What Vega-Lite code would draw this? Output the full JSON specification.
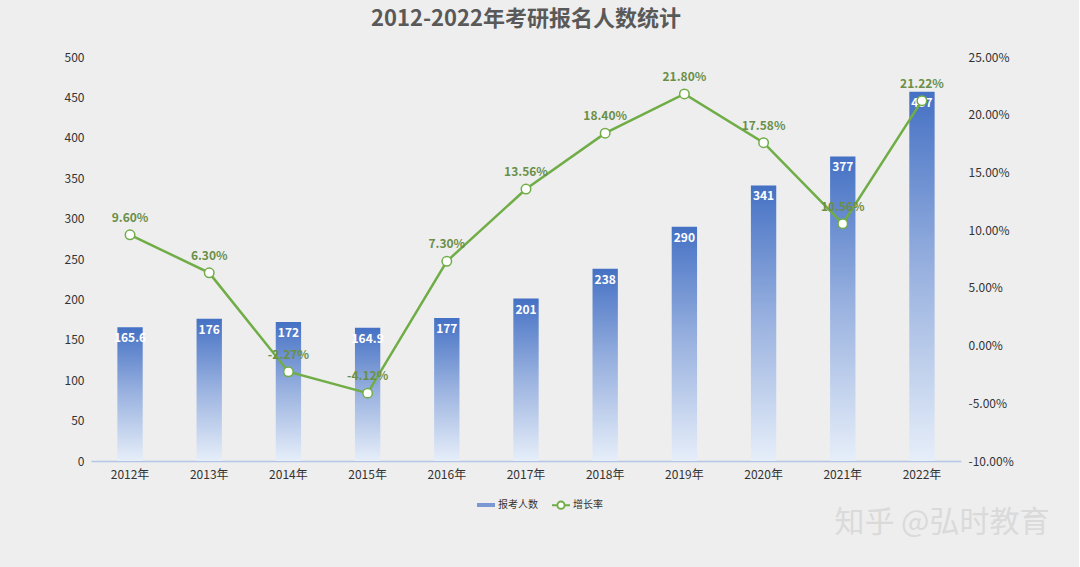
{
  "$schema": "https://vega.github.io/schema/vega-lite/v6.json",
  "width": 870,
  "height": 404,
  "padding": {"left": 64, "top": 8, "right": 30, "bottom": 30},
  "background": "#eeeeee",
  "title": {
    "text": "2012-2022年考研报名人数统计",
    "font": "Noto Sans CJK SC",
    "fontSize": 22,
    "fontWeight": "bold",
    "color": "#595959",
    "anchor": "middle",
    "offset": 20
  },
  "config": {
    "view": {"stroke": null},
    "font": "Noto Sans CJK SC",
    "locale": {
      "number": {"decimal": ".", "thousands": ",", "grouping": [3], "currency": ["", ""], "minus": "-"}
    },
    "axis": {"labelFont": "Noto Sans CJK SC", "titleFont": "Noto Sans CJK SC"},
    "legend": {"labelFont": "Noto Sans CJK SC"}
  },
  "data": {
    "values": [
      {"year": "2012年", "count": 165.6, "growth": 0.096},
      {"year": "2013年", "count": 176, "growth": 0.063},
      {"year": "2014年", "count": 172, "growth": -0.0227},
      {"year": "2015年", "count": 164.9, "growth": -0.0412},
      {"year": "2016年", "count": 177, "growth": 0.073},
      {"year": "2017年", "count": 201, "growth": 0.1356},
      {"year": "2018年", "count": 238, "growth": 0.184},
      {"year": "2019年", "count": 290, "growth": 0.218},
      {"year": "2020年", "count": 341, "growth": 0.1758},
      {"year": "2021年", "count": 377, "growth": 0.1056},
      {"year": "2022年", "count": 457, "growth": 0.2122}
    ]
  },
  "encoding": {
    "x": {
      "field": "year",
      "type": "nominal",
      "sort": null,
      "scale": {"paddingInner": 0.68, "paddingOuter": 0.333},
      "axis": {
        "labelAngle": 0,
        "ticks": false,
        "domainColor": "#b4c6e7",
        "domainWidth": 1.5,
        "labelPadding": 8,
        "labelFontSize": 12,
        "labelColor": "#333333",
        "title": "知乎 @弘时教育",
        "titleFontSize": 30,
        "titleFontWeight": "normal",
        "titleColor": "#dadada",
        "titleAlign": "right",
        "titleBaseline": "middle",
        "titleX": 958,
        "titleY": 61
      }
    }
  },
  "layer": [
    {
      "encoding": {
        "y": {
          "field": "count",
          "type": "quantitative",
          "scale": {"domain": [0, 500], "nice": false},
          "axis": {
            "values": [0, 50, 100, 150, 200, 250, 300, 350, 400, 450, 500],
            "title": null,
            "ticks": false,
            "domain": false,
            "grid": false,
            "labelPadding": 7,
            "labelFontSize": 12,
            "labelColor": "#333333"
          }
        }
      },
      "layer": [
        {
          "mark": {
            "type": "bar",
            "strokeWidth": 0,
            "fill": {
              "gradient": "linear",
              "x1": 0, "y1": 0, "x2": 0, "y2": 1,
              "stops": [
                {"offset": 0, "color": "#4571c4"},
                {"offset": 0.5, "color": "#9bb3e0"},
                {"offset": 1, "color": "#e6eef9"}
              ]
            }
          },
          "encoding": {
            "stroke": {
              "datum": "报考人数",
              "scale": {"domain": ["报考人数", "增长率"], "range": ["#7b98d4", "#70ad47"]},
              "legend": {
                "orient": "none",
                "legendX": 390,
                "legendY": 443,
                "direction": "horizontal",
                "title": null,
                "symbolType": "stroke",
                "symbolSize": 324,
                "symbolStrokeWidth": 4,
                "labelFontSize": 10,
                "labelColor": "#333333",
                "labelOffset": 7,
                "columnPadding": 10,
                "encode": {
                  "symbols": {
                    "update": {
                      "shape": {"signal": "datum.value === '增长率' ? 'M-1,0H-0.4M0.4,0H1M-0.4,0A0.4,0.4,0,1,1,0.4,0A0.4,0.4,0,1,1,-0.4,0' : 'stroke'"},
                      "fill": {"value": "#ffffff"},
                      "strokeWidth": {"signal": "datum.value === '增长率' ? 2 : 4"}
                    }
                  }
                }
              }
            }
          }
        },
        {
          "mark": {
            "type": "text",
            "baseline": "top",
            "dy": 6,
            "color": "#ffffff",
            "fontWeight": "bold",
            "fontSize": 12
          },
          "encoding": {
            "text": {"field": "count", "type": "quantitative"}
          }
        }
      ]
    },
    {
      "encoding": {
        "y": {
          "field": "growth",
          "type": "quantitative",
          "scale": {"domain": [-0.1, 0.25], "nice": false},
          "axis": {
            "orient": "right",
            "values": [-0.1, -0.05, 0, 0.05, 0.1, 0.15, 0.2, 0.25],
            "format": ".2%",
            "title": null,
            "ticks": false,
            "domain": false,
            "grid": false,
            "labelPadding": 7,
            "labelFontSize": 12,
            "labelColor": "#333333"
          }
        }
      },
      "layer": [
        {
          "mark": {
            "type": "line",
            "strokeWidth": 2.5,
            "point": {
              "filled": true,
              "fill": "#ffffff",
              "stroke": "#70ad47",
              "strokeWidth": 1.5,
              "size": 90
            }
          },
          "encoding": {
            "stroke": {
              "datum": "增长率",
              "legend": {
                "orient": "none",
                "legendX": 390,
                "legendY": 443,
                "direction": "horizontal",
                "title": null,
                "symbolType": "stroke",
                "symbolSize": 324,
                "symbolStrokeWidth": 4,
                "labelFontSize": 10,
                "labelColor": "#333333",
                "labelOffset": 7,
                "columnPadding": 10,
                "encode": {
                  "symbols": {
                    "update": {
                      "shape": {"signal": "datum.value === '增长率' ? 'M-1,0H-0.4M0.4,0H1M-0.4,0A0.4,0.4,0,1,1,0.4,0A0.4,0.4,0,1,1,-0.4,0' : 'stroke'"},
                      "fill": {"value": "#ffffff"},
                      "strokeWidth": {"signal": "datum.value === '增长率' ? 2 : 4"}
                    }
                  }
                }
              }
            }
          }
        },
        {
          "mark": {
            "type": "text",
            "dy": -17,
            "color": "#6a8f48",
            "fontWeight": "bold",
            "fontSize": 12
          },
          "encoding": {
            "text": {"field": "growth", "type": "quantitative", "format": ".2%"}
          }
        }
      ]
    }
  ],
  "resolve": {"scale": {"y": "independent"}}
}
